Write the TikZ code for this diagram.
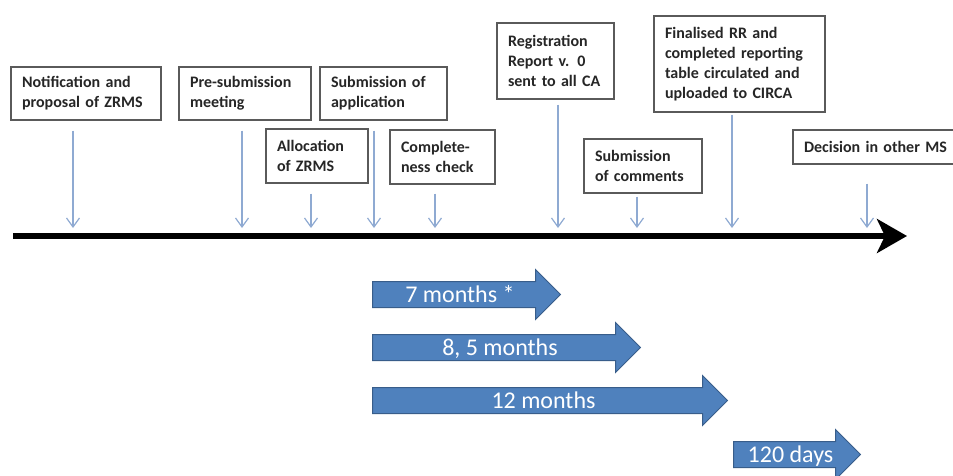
\documentclass[tikz,border=0pt]{standalone}
\usepackage{fontspec}
\setmainfont{Carlito}
\usetikzlibrary{arrows.meta,shapes.arrows}
\definecolor{boxedge}{HTML}{5A5A5A}
\definecolor{boxtext}{HTML}{262626}
\definecolor{tickblue}{HTML}{8FAAD2}
\definecolor{spanblue}{HTML}{4F81BD}
\definecolor{spanedge}{HTML}{385D8A}

\begin{document}
\begin{tikzpicture}[x=1pt, y=-1pt,
    box/.style={draw=boxedge, line width=1.3pt, fill=white, text=boxtext,
      font=\bfseries\fontsize{16}{20}\selectfont, align=left,
      inner xsep=11pt, inner ysep=0pt},
    tick/.style={draw=tickblue, line width=1.2pt, -{Straight Barb[length=9pt,width=13pt]}},
    span/.style={single arrow, draw=spanedge, fill=spanblue, line width=1pt,
      text=white, font=\fontsize{24}{24}\selectfont, anchor=tail,
      single arrow head extend=12pt, inner xsep=0pt, inner ysep=0pt,
      text height=20pt, text depth=5pt}]
      \useasboundingbox (0,0) rectangle (953,476);
      % milestones above the time line
      \node[box, text width=128pt, minimum height=53pt] (notif) at (86,93.5) {Notification and\\proposal of ZRMS};
      \node[box, text width=110pt, minimum height=53pt] (presub) at (245,93.5) {Pre-submission\\meeting};
      \node[box, text width=105pt, minimum height=53pt] (subapp) at (383.5,93.5) {Submission of\\application};
      \node[box, text width=80pt, minimum height=54pt] (alloc) at (317,156) {Allocation\\of ZRMS};
      \node[box, text width=83pt, minimum height=54pt] (compl) at (442.5,157) {Complete-\\ness check};
      \node[box, text width=95pt, minimum height=76pt] (regrep) at (555.5,61) {Registration\\Report v. 0\\sent to all CA};
      \node[box, text width=96pt, minimum height=54pt] (subcom) at (643,166) {Submission\\of comments};
      \node[box, text width=149pt, minimum height=96pt] (final) at (739.5,64) {Finalised RR and\\completed reporting\\table circulated and\\uploaded to CIRCA};
      \node[box, text width=148pt, minimum height=34pt] (decis) at (878,147) {Decision in other MS};
      % time line
      \coordinate (tlstart) at (13,236);
      \coordinate (tlend) at (907,236);
      \draw[line width=6pt, -{Stealth[length=30pt,width=34pt,inset=8pt]}] (tlstart) -- (tlend);
      % where each milestone meets the time line
      \coordinate (tnotif) at (73,228);
      \coordinate (tpresub) at (242,228);
      \coordinate (tsubapp) at (374,228);
      \coordinate (talloc) at (311,228);
      \coordinate (tcompl) at (435,228);
      \coordinate (tregrep) at (558,228);
      \coordinate (tsubcom) at (637,228);
      \coordinate (tfinal) at (732,228);
      \coordinate (tdecis) at (867,228);
      \draw[tick] ([yshift=-10pt]notif.south -| tnotif) -- (tnotif);
      \draw[tick] ([yshift=-10pt]presub.south -| tpresub) -- (tpresub);
      \draw[tick] ([yshift=-10pt]subapp.south -| tsubapp) -- (tsubapp);
      \draw[tick] ([yshift=-10pt]alloc.south -| talloc) -- (talloc);
      \draw[tick] ([yshift=-9pt]compl.south -| tcompl) -- (tcompl);
      \draw[tick] ([yshift=-5pt]regrep.south -| tregrep) -- (tregrep);
      \draw[tick] ([yshift=-3pt]subcom.south -| tsubcom) -- (tsubcom);
      \draw[tick] ([yshift=-2pt]final.south -| tfinal) -- (tfinal);
      \draw[tick] ([yshift=-19pt]decis.south -| tdecis) -- (tdecis);
      % durations
      \node[span, minimum height=188pt] (m7) at (372,294.5) {7 months *};
      \node[span, minimum height=268pt] (m85) at (372,347.5) {8, 5 months};
      \node[span, minimum height=355pt] (m12) at (372,400.5) {12 months};
      \node[span, minimum height=127pt] (d120) at (733,454.5) {120 days};
    \end{tikzpicture}
\end{document}
